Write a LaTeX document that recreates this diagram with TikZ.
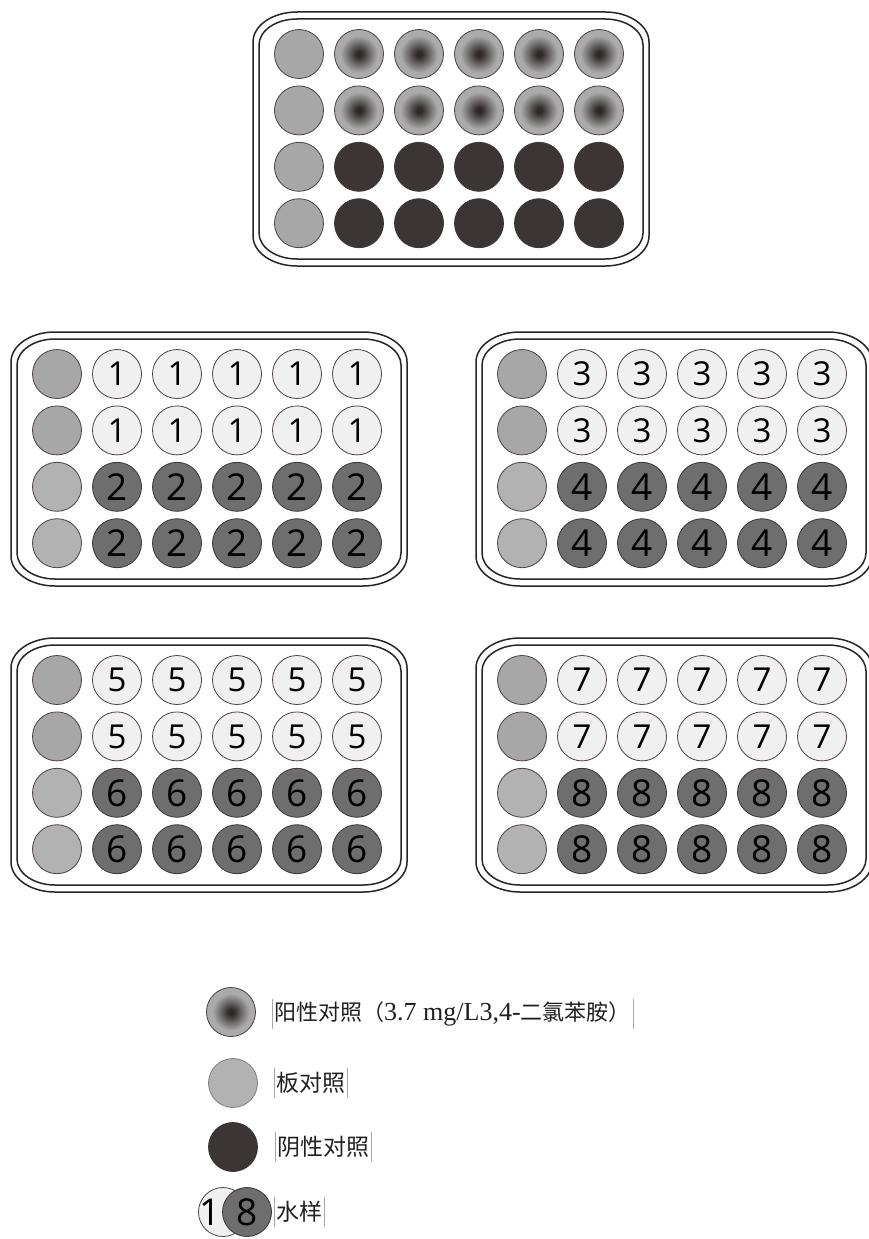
\documentclass[tikz,border=0pt]{standalone}
\usepackage{fontspec}
\setmainfont{Liberation Serif}
\newfontfamily\cjk{Noto Sans CJK SC}
\newfontfamily\numfont{Open Sans}
\definecolor{pcdark}{HTML}{2E2828}
\definecolor{pcgray}{HTML}{ABABAB}
\definecolor{negfill}{HTML}{3B3536}
\definecolor{ctlA}{HTML}{A7A7A7}
\definecolor{ctlB}{HTML}{B2B2B2}
\definecolor{lightfill}{HTML}{F0F0F0}
\definecolor{darkfill}{HTML}{6E6E6E}
\definecolor{rimcol}{HTML}{4E4040}
\definecolor{platecol}{HTML}{262626}
\definecolor{txtcol}{HTML}{231F20}
\pgfdeclareradialshading{posctl}{\pgfpoint{0bp}{0bp}}{color(0bp)=(pcdark); color(2.5bp)=(pcdark); color(19bp)=(pcgray); color(50bp)=(pcgray)}
\tikzset{
  plateline/.style={draw=platecol, line width=1.5pt},
  wellbase/.style={circle, minimum size=49pt, inner sep=0pt, line width=0.8pt, draw=rimcol},
  ctlwellA/.style={wellbase, fill=ctlA},
  ctlwellB/.style={wellbase, fill=ctlB},
  poswell/.style={wellbase, shading=posctl},
  negwell/.style={wellbase, fill=negfill, draw=negfill},
  lightwell/.style={wellbase, fill=lightfill, text=black, font=\numfont\fontsize{33}{33}\selectfont},
  darkwell/.style={wellbase, fill=darkfill, draw=rimcol!80!black, text=black, font=\numfont\fontsize{37}{37}\selectfont},
  legtext/.style={anchor=west, inner xsep=2pt, inner ysep=0pt, minimum height=30pt, text=txtcol},
  barline/.style={draw=gray!70, line width=0.6pt}
}
\newcommand\plateoutline[6]{%
  \draw[plateline] ({#1},{#2+#6}) .. controls ({#1},{#2+0.4477*#6}) and ({#1+0.4477*#5},{#2}) .. ({#1+#5},{#2})
    -- ({#3-#5},{#2}) .. controls ({#3-0.4477*#5},{#2}) and ({#3},{#2+0.4477*#6}) .. ({#3},{#2+#6})
    -- ({#3},{#4-#6}) .. controls ({#3},{#4-0.4477*#6}) and ({#3-0.4477*#5},{#4}) .. ({#3-#5},{#4})
    -- ({#1+#5},{#4}) .. controls ({#1+0.4477*#5},{#4}) and ({#1},{#4-0.4477*#6}) .. ({#1},{#4-#6}) -- cycle;}
\newcommand\plateframe[2]{%
  \plateoutline{#1-46}{#2-42}{#1+350}{#2+212}{44}{30}%
  \plateoutline{#1-40}{#2-35}{#1+344}{#2+205}{38}{26}}
\newcommand\controlplate[3]{% name X Y
  \plateframe{#2}{#3}
  \foreach \r in {0,...,3}{\node[ctlwellA] (#1-\r-0) at ({#2},{#3+56.4*\r}) {};}
  \foreach \r in {0,1}{\foreach \c in {1,...,5}{\node[poswell] (#1-\r-\c) at ({#2+60*\c},{#3+56.4*\r}) {};}}
  \foreach \r in {2,3}{\foreach \c in {1,...,5}{\node[negwell] (#1-\r-\c) at ({#2+60*\c},{#3+56.4*\r}) {};}}
}
\newcommand\sampleplate[5]{% name X Y digitA digitB
  \plateframe{#2}{#3}
  \foreach \r in {0,1}{\node[ctlwellA] (#1-\r-0) at ({#2},{#3+56.4*\r}) {};}
  \foreach \r in {2,3}{\node[ctlwellB] (#1-\r-0) at ({#2},{#3+56.4*\r}) {};}
  \foreach \r in {0,1}{\foreach \c in {1,...,5}{\node[lightwell] (#1-\r-\c) at ({#2+60*\c},{#3+56.4*\r}) {#4};}}
  \foreach \r in {2,3}{\foreach \c in {1,...,5}{\node[darkwell] (#1-\r-\c) at ({#2+60*\c},{#3+56.4*\r}) {\raisebox{-3pt}{#5}};}}
}
\begin{document}
\begin{tikzpicture}[x=1pt,y=-1pt]
\useasboundingbox[fill=white] (0,0) rectangle (868,1239);
\controlplate{pc}{299}{54}
\sampleplate{pa}{57}{374}{1}{2}
\sampleplate{pb}{522}{374}{3}{4}
\sampleplate{pd}{57}{680}{5}{6}
\sampleplate{pe}{522}{680}{7}{8}
% legend
\node[poswell] (lg1) at (231,1012) {};
\node[legtext, font=\cjk\fontsize{22}{22}\selectfont] (lt1) at (272,1014) {阳性对照（{\rmfamily\fontsize{26}{26}\selectfont 3.7 mg/L3,4-}二氯苯胺）};
\node[wellbase, fill=ctlB, draw=gray] (lg2) at (233,1083) {};
\node[legtext, font=\cjk\fontsize{23}{23}\selectfont] (lt2) at (274,1083) {板对照};
\node[negwell] (lg3) at (233,1147) {};
\node[legtext, font=\cjk\fontsize{23}{23}\selectfont] (lt3) at (275,1147) {阴性对照};
\node[lightwell, font=\numfont\fontsize{37}{37}\selectfont, text width=40pt, align=left] (lg4a) at (223,1212) {\hspace*{-4pt}1};
\node[darkwell] (lg4b) at (247,1212) {\raisebox{-2pt}{8}};
\node[legtext, font=\cjk\fontsize{23}{23}\selectfont] (lt4) at (274,1212) {水样};
\foreach \n in {lt1,lt2,lt3,lt4}{
  \draw[barline] (\n.north west) -- (\n.south west);
  \draw[barline] (\n.north east) -- (\n.south east);
}
\end{tikzpicture}
\end{document}
